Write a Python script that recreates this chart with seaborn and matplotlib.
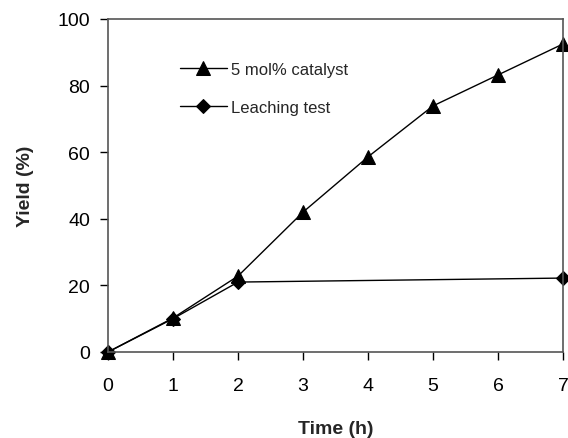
import matplotlib
matplotlib.use("Agg")
import matplotlib.pyplot as plt
import seaborn as sns
import pandas as pd

time_cat = [0, 1, 2, 3, 4, 5, 6, 7]
yield_cat = [0, 10.2, 22.8, 42, 58.6, 73.9, 83.2, 92.5]
time_leach = [0, 1, 2, 7]
yield_leach = [0, 10, 21, 22.2]
x_ticks = [0, 1, 2, 3, 4, 5, 6, 7]
y_ticks = [0, 20, 40, 60, 80, 100]

sns.set_style("white")
plt.rcParams['font.family'] = ['Liberation Sans', 'DejaVu Sans']

df_cat = pd.DataFrame({"t": time_cat, "y": yield_cat})
df_leach = pd.DataFrame({"t": time_leach, "y": yield_leach})

fig = plt.figure(figsize=(5.68, 4.39), dpi=100)
ax = fig.add_axes([108/568, 1 - 353/439, (563-108)/568, (353-20)/439])

sns.lineplot(data=df_cat, x="t", y="y", ax=ax, color="black", lw=1,
             marker="^", markersize=10, markeredgecolor="black",
             label="5 mol% catalyst", clip_on=False)
sns.lineplot(data=df_leach, x="t", y="y", ax=ax, color="black", lw=1,
             marker="D", markersize=7, markeredgecolor="black",
             label="Leaching test", clip_on=False)

ax.set_xlim(0, 7)
ax.set_ylim(0, 100)
ax.set_xticks(x_ticks)
ax.set_yticks(y_ticks)
ax.tick_params(axis="both", direction="out", length=6, width=1, labelsize=14,
               bottom=True, left=True, top=False, right=False, colors="black")
ax.tick_params(axis="x", pad=12)
ax.tick_params(axis="y", pad=7)
for s in ax.spines.values():
    s.set_color("#555555")
    s.set_linewidth(1.2)
ax.set_xlabel("Time (h)", fontsize=14, fontweight="bold", labelpad=19)
ax.set_ylabel("Yield (%)", fontsize=14, fontweight="bold", labelpad=17)

leg = ax.legend(loc="upper left", bbox_to_anchor=(0.125, 0.915), frameon=False,
                fontsize=12, handlelength=2.8, labelspacing=1.35, handletextpad=0.25)

fig.savefig("out.png", dpi=100)
